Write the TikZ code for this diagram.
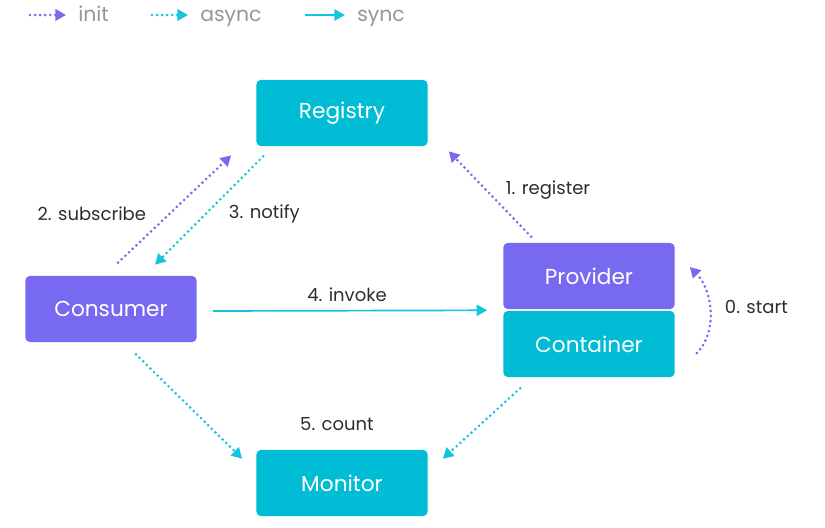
\documentclass[tikz,border=0pt]{standalone}
\usepackage{fontspec}
\setmainfont{Poppins}
\usetikzlibrary{arrows.meta,calc}
\definecolor{dpurple}{RGB}{120,106,240}
\definecolor{dcyan}{RGB}{0,188,212}
\definecolor{lcyan}{RGB}{20,196,222}
\definecolor{lgray}{RGB}{150,150,150}
\definecolor{dgray}{RGB}{45,45,45}
\tikzset{
	box/.style={rounded corners=3pt, minimum width=4.275cm, minimum height=1.65cm, text=white, font=\fontsize{15.4}{17}\selectfont},
	lbl/.style={text=dgray, font=\fontsize{12.8}{15}\selectfont},
	legend/.style={text=lgray, font=\fontsize{14.5}{16}\selectfont},
	tip/.style={-{Triangle[length=7.5pt,width=8pt]}},
	initline/.style={tip, dpurple, line width=2.1pt, dash pattern=on 0pt off 3.6pt, line cap=round},
	asyncline/.style={tip, lcyan, line width=2.1pt, dash pattern=on 0pt off 3.6pt, line cap=round},
	syncline/.style={tip, lcyan, line width=1.2pt}
}
\begin{document}
\begin{tikzpicture}[x=0.025cm, y=-0.025cm]
			\useasboundingbox (0,0) rectangle (825,528);
			% legend
			\coordinate (k1) at (30,15);
			\coordinate (e1) at (66,15);
			\coordinate (k2) at (152,15);
			\coordinate (e2) at (188,15);
			\coordinate (k3) at (305,15);
			\coordinate (e3) at (345,15);
			\node[legend, anchor=base west, inner sep=0pt] (t1) at (78,21) {init};
			\node[legend, anchor=base west, inner sep=0pt] (t2) at (200,21) {async};
			\node[legend, anchor=base west, inner sep=0pt] (t3) at (357,21) {sync};
			\draw[initline] (k1) -- (e1);
			\draw[asyncline] (k2) -- (e2);
			\draw[syncline] (k3) -- (e3);
			% boxes
			\node[box, fill=dcyan] (reg) at (342,113) {Registry};
			\node[box, fill=dpurple] (cons) at (111,309) {Consumer};
			\node[box, fill=dpurple] (prov) at (589,276) {Provider};
			\node[box, fill=dcyan] (cont) at (589,344) {Container};
			\node[box, fill=dcyan] (mon) at (342,483) {Monitor};
			% connectors
			\draw[initline] ($(cons.north)+(7,-13)$) -- ($(reg.south west)+(-25,9)$);
			\draw[asyncline] ($(reg.south west)+(7,10)$) -- ($(cons.north)+(44,-11)$);
			\draw[initline] ($(prov.north west)+(28,-6)$) -- ($(reg.south east)+(21,5)$);
			\draw[syncline] ($(cons.east)+(16,2)$) -- ($(prov.south west)+(-16,1)$);
			\draw[initline] ($(cont.east)+(22,9)$) .. controls +(22,-22) and +(22,22) .. ($(prov.east)+(15,-9)$);
			\draw[asyncline] ($(cons.south)+(25,12)$) -- ($(mon.north west)+(-14,9)$);
			\draw[asyncline] ($(cont.south west)+(17,11)$) -- ($(mon.north east)+(15,9)$);
			% labels
			\node[lbl, anchor=east] (l2) at (151,214) {2. subscribe};
			\node[lbl, anchor=west] (l3) at (224,214) {3. notify};
			\node[lbl, anchor=west] (l1) at (501,190) {1. register};
			\node[lbl] (l4) at (347,295) {4. invoke};
			\node[lbl, anchor=west] (l0) at (720,307) {0. start};
			\node[lbl] (l5) at (337,424) {5. count};
		\end{tikzpicture}
\end{document}
